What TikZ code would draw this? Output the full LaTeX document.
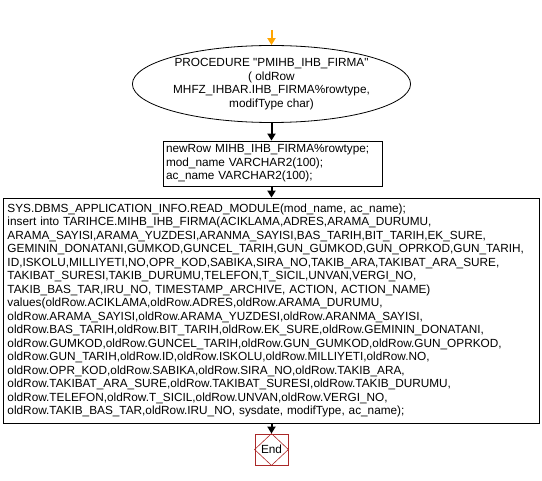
\documentclass[tikz,border=0pt]{standalone}
\usepackage{fontspec}
\setmainfont{Liberation Sans}
\usetikzlibrary{shapes.geometric,arrows.meta}
\definecolor{endred}{RGB}{170,40,40}
\definecolor{startorange}{RGB}{255,165,0}
\tikzset{
  txt/.style={font=\fontsize{11.8}{13.5}\selectfont},
  procbox/.style={draw, line width=0.8pt, rectangle, inner sep=0pt, txt, align=left},
  flow/.style={line width=2pt, -{Triangle[length=7pt,width=8pt]}},
}
\begin{document}
\begin{tikzpicture}[x=1pt,y=1pt]
\useasboundingbox (0,0) rectangle (542,-481);
\coordinate (start) at (271.5,-30);
\node[draw, line width=0.8pt, ellipse, minimum width=224pt, minimum height=77pt, inner sep=0pt, txt, align=center] (proc) at (271.5,-84)
  {PROCEDURE \textquotedbl PMIHB\_IHB\_FIRMA\textquotedbl\\( oldRow\\MHFZ\_IHBAR.IHB\_FIRMA\%rowtype,\\modifType char)};
\node[procbox, minimum width=219pt, minimum height=45pt, text width=213pt] (decl) at (272.5,-163.5)
  {newRow MIHB\_IHB\_FIRMA\%rowtype;\\mod\_name VARCHAR2(100);\\ac\_name VARCHAR2(100);};
\node[procbox, minimum width=536pt, minimum height=225pt, text width=528pt] (body) at (271.5,-310.5)
  {SYS.DBMS\_APPLICATION\_INFO.READ\_MODULE(mod\_name, ac\_name);\\
insert into TARIHCE.MIHB\_IHB\_FIRMA(ACIKLAMA,ADRES,ARAMA\_DURUMU,\\
ARAMA\_SAYISI,ARAMA\_YUZDESI,ARANMA\_SAYISI,BAS\_TARIH,BIT\_TARIH,EK\_SURE,\\
GEMININ\_DONATANI,GUMKOD,GUNCEL\_TARIH,GUN\_GUMKOD,GUN\_OPRKOD,GUN\_TARIH,\\
ID,ISKOLU,MILLIYETI,NO,OPR\_KOD,SABIKA,SIRA\_NO,TAKIB\_ARA,TAKIBAT\_ARA\_SURE,\\
TAKIBAT\_SURESI,TAKIB\_DURUMU,TELEFON,T\_SICIL,UNVAN,VERGI\_NO,\\
TAKIB\_BAS\_TAR,IRU\_NO, TIMESTAMP\_ARCHIVE, ACTION, ACTION\_NAME)\\
values(oldRow.ACIKLAMA,oldRow.ADRES,oldRow.ARAMA\_DURUMU,\\
oldRow.ARAMA\_SAYISI,oldRow.ARAMA\_YUZDESI,oldRow.ARANMA\_SAYISI,\\
oldRow.BAS\_TARIH,oldRow.BIT\_TARIH,oldRow.EK\_SURE,oldRow.GEMININ\_DONATANI,\\
oldRow.GUMKOD,oldRow.GUNCEL\_TARIH,oldRow.GUN\_GUMKOD,oldRow.GUN\_OPRKOD,\\
oldRow.GUN\_TARIH,oldRow.ID,oldRow.ISKOLU,oldRow.MILLIYETI,oldRow.NO,\\
oldRow.OPR\_KOD,oldRow.SABIKA,oldRow.SIRA\_NO,oldRow.TAKIB\_ARA,\\
oldRow.TAKIBAT\_ARA\_SURE,oldRow.TAKIBAT\_SURESI,oldRow.TAKIB\_DURUMU,\\
oldRow.TELEFON,oldRow.T\_SICIL,oldRow.UNVAN,oldRow.VERGI\_NO,\\
oldRow.TAKIB\_BAS\_TAR,oldRow.IRU\_NO, sysdate, modifType, ac\_name);};
\node[draw=endred, line width=0.8pt, rectangle, minimum width=33pt, minimum height=31pt, inner sep=0pt, txt] (end) at (271.5,-449.5) {End};
\draw[endred, line width=0.6pt] (end.north) -- (end.east) -- (end.south) -- (end.west) -- cycle;
\draw[flow, startorange] (start) -- (proc.north);
\draw[flow] (proc.south) -- (proc.south |- decl.north);
\draw[flow] (decl.south -| proc.south) -- (proc.south |- body.north);
\draw[flow] (body.south -| end.north) -- (end.north);
\end{tikzpicture}
\end{document}
